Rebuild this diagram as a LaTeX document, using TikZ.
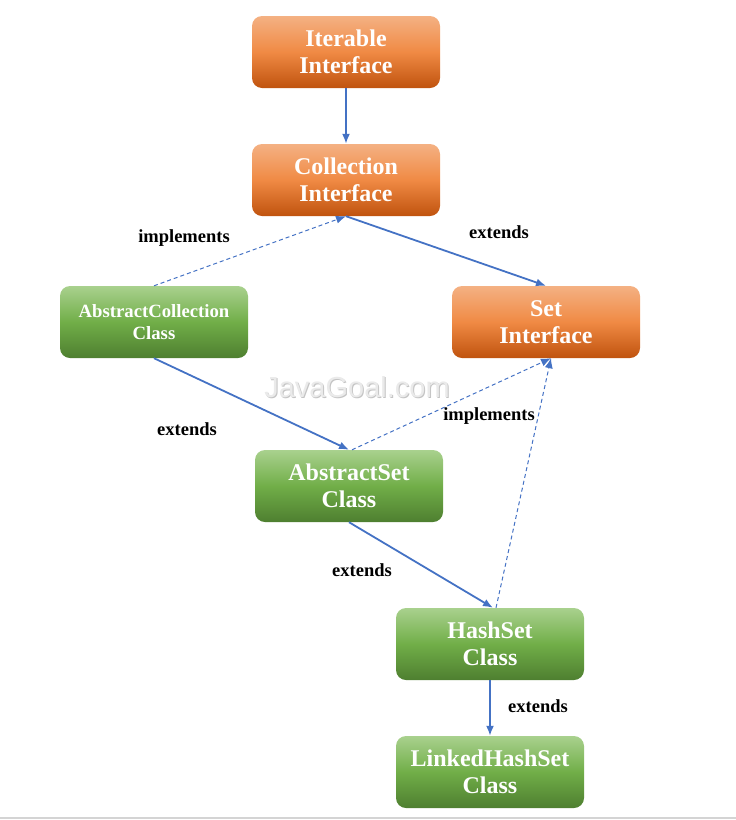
\documentclass[tikz,border=0pt]{standalone}
\usepackage{fontspec}
\setmainfont{Liberation Serif}
\newfontfamily\wmfont{Liberation Sans}
\usetikzlibrary{arrows.meta}
\definecolor{ortop}{HTML}{F4B183}
\definecolor{ormid}{HTML}{F08A44}
\definecolor{orbot}{HTML}{C0530E}
\definecolor{grtop}{HTML}{A9D18E}
\definecolor{grmid}{HTML}{71AE48}
\definecolor{grbot}{HTML}{4E7F30}
\definecolor{arblue}{HTML}{4472C4}
\definecolor{wmlight}{HTML}{EAEAEA}
\definecolor{wmdark}{HTML}{C4C4C4}
\definecolor{rulegray}{HTML}{D4D4D4}

\begin{document}
\begin{tikzpicture}[x=1pt,y=-1pt,
  iface/.style={rounded corners=10pt,minimum width=188pt,minimum height=72pt,
    top color=ortop,bottom color=orbot,middle color=ormid,
    text=white,align=center,font=\fontsize{24}{27}\selectfont\bfseries},
  cls/.style={iface,top color=grtop,bottom color=grbot,middle color=grmid},
  ext/.style={arblue,line width=1.8pt,-{Latex[length=10pt,width=8pt]}},
  impl/.style={arblue,line width=1pt,dash pattern=on 4pt off 3pt,-{Latex[length=10pt,width=8pt]}},
  lbl/.style={font=\fontsize{18.5}{21}\selectfont\bfseries}]
  \useasboundingbox (0,0) rectangle (736,820);
  % watermark
  \node (wms) at (358,388) {\wmfont\fontsize{29}{32}\selectfont\color{wmdark}JavaGoal.com};
  \node (wm) at (357,387) {\wmfont\fontsize{29}{32}\selectfont\color{wmlight}JavaGoal.com};
  % boxes
  \node [iface] (iter) at (346,52) {Iterable\\Interface};
  \node [iface] (coll) at (346,180) {Collection\\Interface};
  \node [cls,font=\fontsize{18.7}{22}\selectfont\bfseries] (absc) at (154,322) {AbstractCollection\\Class};
  \node [iface] (set) at (546,322) {Set\\Interface};
  \node [cls] (abss) at (349,486) {AbstractSet\\Class};
  \node [cls] (hs) at (490,644) {HashSet\\Class};
  \node [cls] (lhs) at (490,772) {LinkedHashSet\\Class};
  % connectors
  \draw [ext] (iter.south) -- (coll.north);
  \draw [ext] (coll.south) -- (set.north);
  \draw [impl] (absc.north) -- (coll.south);
  \draw [ext] (absc.south) -- (abss.north);
  \draw [impl] ([xshift=3pt]abss.north) -- ([xshift=5pt]set.south);
  \draw [ext] (abss.south) -- ([xshift=3pt]hs.north);
  \draw [impl] ([xshift=6pt]hs.north) -- ([xshift=5pt]set.south);
  \draw [ext] (hs.south) -- (lhs.north);
  % labels
  \node [lbl] (l1) at (184,238) {implements};
  \node [lbl] (l2) at (499,232) {extends};
  \node [lbl] (l3) at (187,429) {extends};
  \node [lbl] (l4) at (489,416) {implements};
  \node [lbl] (l5) at (362,570) {extends};
  \node [lbl] (l6) at (538,706) {extends};
  \draw [rulegray,line width=1.5pt] (0,818) -- (736,818);
\end{tikzpicture}
\end{document}
